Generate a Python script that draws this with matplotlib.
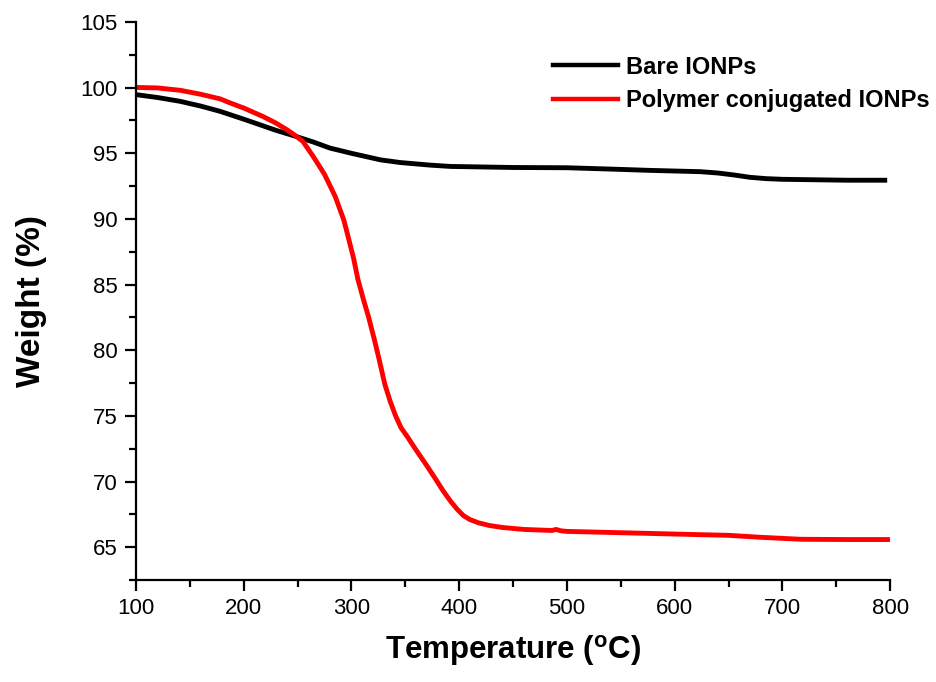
import matplotlib

matplotlib.use('Agg')

import matplotlib.pyplot as plt
from matplotlib.ticker import MultipleLocator

# TGA curves
bare_temp = [100, 120, 141, 160, 178, 200, 230, 248, 265, 280, 300, 327, 345,
             373, 392, 450, 500, 540, 577, 624, 640, 655, 670, 685, 700, 717,
             760, 795]
bare_weight = [99.47, 99.25, 98.96, 98.6, 98.2, 97.6, 96.75, 96.3, 95.85, 95.4,
               95.0, 94.5, 94.3, 94.1, 94.0, 93.92, 93.9, 93.8, 93.7, 93.6,
               93.5, 93.35, 93.17, 93.07, 93.02, 93.0, 92.95, 92.95]

poly_temp = [100, 120, 141, 160, 178, 187, 200, 218, 230, 240, 248, 255, 265,
             275, 285, 293, 298, 302, 306, 311, 316, 321, 326, 331, 336, 341,
             346, 352, 360, 370, 378, 385, 392, 398, 404, 410, 418, 428, 440,
             460, 486, 490, 494, 500, 550, 624, 650, 680, 717, 760, 800]
poly_weight = [100.02, 99.98, 99.8, 99.5, 99.15, 98.85, 98.45, 97.8, 97.3,
               96.8, 96.35, 95.9, 94.7, 93.4, 91.7, 89.9, 88.3, 87.0, 85.4,
               83.9, 82.5, 80.9, 79.2, 77.4, 76.1, 75.0, 74.1, 73.4, 72.4,
               71.2, 70.2, 69.3, 68.5, 67.9, 67.4, 67.1, 66.85, 66.65, 66.5,
               66.35, 66.27, 66.35, 66.25, 66.2, 66.1, 65.95, 65.9, 65.75,
               65.6, 65.58, 65.58]

series_labels = ['Bare IONPs', 'Polymer conjugated IONPs']

plt.rcParams['font.family'] = ['Liberation Sans', 'DejaVu Sans']
plt.rcParams['mathtext.fontset'] = 'custom'
plt.rcParams['mathtext.rm'] = 'Liberation Sans:bold'
plt.rcParams['mathtext.bf'] = 'Liberation Sans:bold'


def main():
    fig = plt.figure(figsize=(9.37, 6.82), dpi=100)
    ax = fig.add_axes([0.1451, 0.1496, 0.8049, 0.8181])

    ax.plot(bare_temp, bare_weight, color='black', lw=3.5, label=series_labels[0],
            solid_joinstyle='round')
    ax.plot(poly_temp, poly_weight, color='#ff0000', lw=3.5, label=series_labels[1],
            solid_joinstyle='round')

    ax.set_xlim(100, 800)
    ax.set_ylim(62.5, 105)
    ax.xaxis.set_major_locator(MultipleLocator(100))
    ax.xaxis.set_minor_locator(MultipleLocator(50))
    ax.yaxis.set_major_locator(MultipleLocator(5))
    ax.yaxis.set_minor_locator(MultipleLocator(2.5))

    for side in ('top', 'right'):
        ax.spines[side].set_visible(False)
    for side in ('left', 'bottom'):
        ax.spines[side].set_linewidth(1.6)

    ax.tick_params(which='major', direction='out', length=8, width=1.6,
                   labelsize=16, pad=5)
    ax.tick_params(which='minor', direction='out', length=5, width=1.6)

    ax.set_xlabel('Temperature ($^{\\mathrm{o}}$C)', fontsize=22.5,
                  fontweight='bold', labelpad=10)
    ax.set_ylabel('Weight (%)', fontsize=24, fontweight='bold', labelpad=24)

    leg = ax.legend(loc='upper left', bbox_to_anchor=(0.553, 0.94), frameon=False,
                    prop={'weight': 'bold', 'size': 17}, handlelength=2.75,
                    handletextpad=0.34, labelspacing=0.44, borderpad=0,
                    borderaxespad=0)
    for line in leg.get_lines():
        line.set_linewidth(3.2)

    fig.savefig('out.png', dpi=100)


if __name__ == "__main__":
    main()
